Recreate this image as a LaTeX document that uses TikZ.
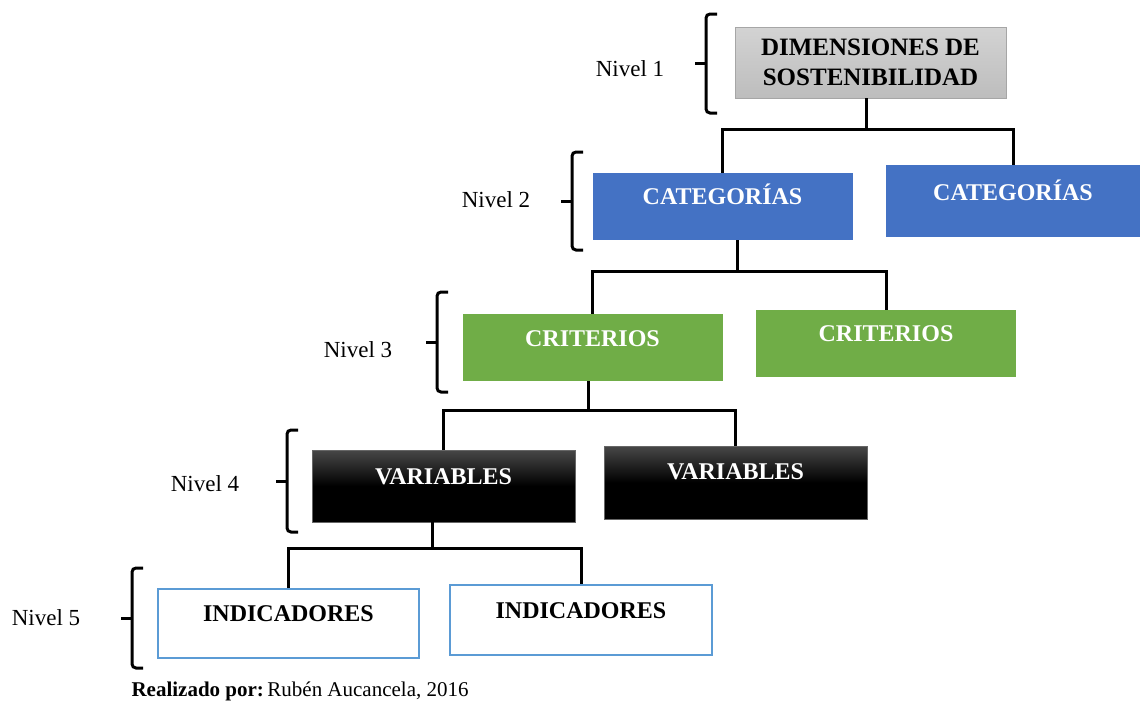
\documentclass[tikz,border=0pt]{standalone}
\usepackage{fontspec}
\setmainfont{Liberation Serif}
\usepackage{tikz}
\usetikzlibrary{positioning}
\definecolor{dimtop}{HTML}{D3D3D3}
\definecolor{dimbottom}{HTML}{BDBDBD}
\definecolor{dimborder}{HTML}{A6A6A6}
\definecolor{catblue}{HTML}{4472C4}
\definecolor{critgreen}{HTML}{70AD47}
\definecolor{indblue}{HTML}{5B9BD5}
\tikzset{
  levelbox/.style={inner sep=0pt,align=center,minimum width=260pt,
    text height=32pt,text depth=37pt,font=\fontsize{24}{26}\selectfont\bfseries},
  dimbox/.style={draw=dimborder,top color=dimtop,bottom color=dimbottom,
    inner sep=0pt,align=center,minimum width=271pt,minimum height=71pt,
    font=\fontsize{25}{30}\selectfont\bfseries},
  catbox/.style={levelbox,fill=catblue,text=white},
  critbox/.style={levelbox,fill=critgreen,text=white},
  varbox/.style={levelbox,draw=black!60,top color=black!72,bottom color=black,
    middle color=black,text=white},
  indbox/.style={levelbox,draw=indblue,line width=2pt,fill=white},
  nivellabel/.style={font=\fontsize{23}{26}\selectfont},
  treeline/.style={line width=3pt},
  bracketline/.style={line width=3pt,rounded corners=4pt}
}
% corchete de nivel: x, y arriba, y abajo
\newcommand{\nivelbrace}[3]{%
  \draw[bracketline] ({#1+11},#2) -- (#1,#2) -- (#1,#3) -- ({#1+11},#3);
  \draw[line width=3pt] (#1,{(#2+#3)/2}) -- ({#1-11},{(#2+#3)/2});}

\begin{document}
\begin{tikzpicture}[x=1pt,y=-1pt]
  \useasboundingbox (0,0) rectangle (1140,702);
  % cajas
  \node[dimbox] (dim) at (870.5,62.5) {DIMENSIONES DE\\SOSTENIBILIDAD};
  \node[catbox,text height=31pt,text depth=36pt] (cat1) at (722.5,206.5) {CATEGORÍAS};
  \node[catbox,minimum width=254pt,text height=35pt,text depth=37pt] (cat2) at (1013,201) {CATEGORÍAS};
  \node[critbox,text height=32pt,text depth=35pt] (crit1) at (592.5,347.5) {CRITERIOS};
  \node[critbox,text height=31pt,text depth=36pt] (crit2) at (886,343.5) {CRITERIOS};
  \node[varbox,minimum width=263pt,text height=34pt,text depth=38pt] (var1) at (443.5,486) {VARIABLES};
  \node[varbox,minimum width=263pt,text height=33pt,text depth=40pt] (var2) at (735.5,482.5) {VARIABLES};
  \node[indbox,minimum width=261pt,text height=32pt,text depth=37pt] (ind1) at (288.5,623.5) {INDICADORES};
  \node[indbox,minimum width=262pt,text height=33pt,text depth=37pt] (ind2) at (581,620) {INDICADORES};
  % niveles
  \node[nivellabel] (nivel1) at (630,69) {Nivel 1};
  \node[nivellabel] (nivel2) at (496,200) {Nivel 2};
  \node[nivellabel] (nivel3) at (358,350) {Nivel 3};
  \node[nivellabel] (nivel4) at (205,484) {Nivel 4};
  \node[nivellabel] (nivel5) at (46,618) {Nivel 5};
  \nivelbrace{706}{14}{113}
  \nivelbrace{572}{152}{250}
  \nivelbrace{437}{292}{392}
  \nivelbrace{287}{430}{532}
  \nivelbrace{132}{568}{668}
  % conexiones
  \coordinate (j1) at (866,129);
  \coordinate (j2) at (737,271);
  \coordinate (j3) at (588,410);
  \coordinate (j4) at (432,548);
  \draw[treeline] (dim.south -| j1) -- (j1);
  \draw[treeline] (cat1.north) |- (j1) -| (cat2.north);
  \draw[treeline] (cat1.south -| j2) -- (j2);
  \draw[treeline] (crit1.north) |- (j2) -| (crit2.north);
  \draw[treeline] (crit1.south -| j3) -- (j3);
  \draw[treeline] (var1.north) |- (j3) -| (var2.north);
  \draw[treeline] (var1.south -| j4) -- (j4);
  \draw[treeline] (ind1.north) |- (j4) -| (ind2.north);
  \node[anchor=base west,font=\fontsize{21}{24}\selectfont] (fuente) at (128,696)
    {\textbf{Realizado por:}\,Rubén Aucancela, 2016};
\end{tikzpicture}
\end{document}
